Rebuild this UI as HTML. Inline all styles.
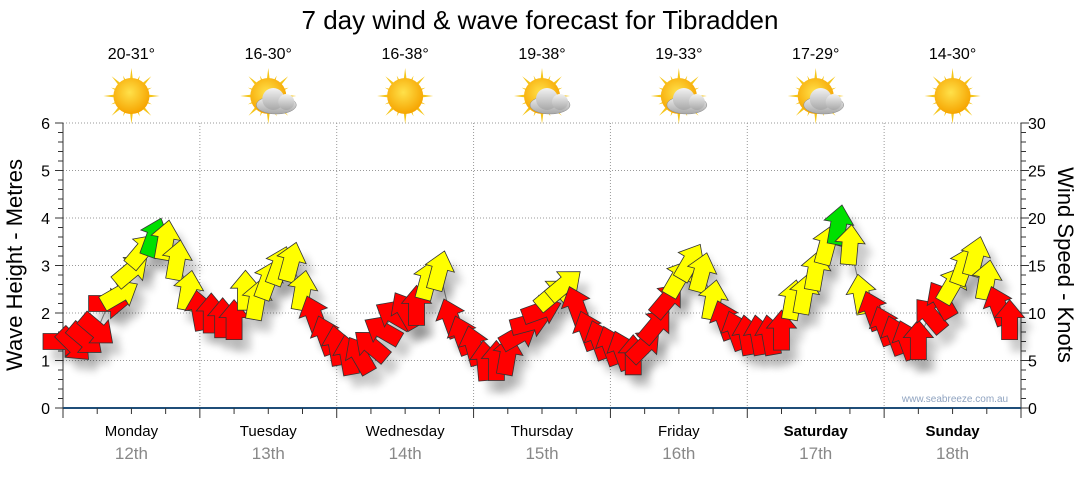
<!DOCTYPE html>
<html><head><meta charset="utf-8"><style>
body{margin:0;background:#fff;font-family:"Liberation Sans",sans-serif}
svg text{font-family:"Liberation Sans",sans-serif}
</style></head><body>
<svg id="c" width="1080" height="475" xmlns="http://www.w3.org/2000/svg">
<defs>
<radialGradient id="sunG" cx="45%" cy="40%" r="60%"><stop offset="0" stop-color="#ffe14a"/><stop offset="1" stop-color="#f6a400"/></radialGradient>
<linearGradient id="cloudG" x1="0" y1="0" x2="0" y2="1"><stop offset="0" stop-color="#f2f2f2"/><stop offset="1" stop-color="#a8a8a8"/></linearGradient>
<filter id="sh" x="-50%" y="-50%" width="200%" height="200%"><feGaussianBlur stdDeviation="4"/></filter>
</defs>
<text x="540" y="29" text-anchor="middle" font-size="26" fill="#000">7 day wind &amp; wave forecast for Tibradden</text>
<g id="grid"></g><g id="axes"></g><g id="marks"></g><g id="wx"></g>
<text x="955" y="402" text-anchor="middle" font-size="10" fill="#8fa3c0">www.seabreeze.com.au</text>
<text transform="translate(22,265) rotate(-90)" text-anchor="middle" font-size="22">Wave Height - Metres</text>
<text transform="translate(1058,265) rotate(90)" text-anchor="middle" font-size="22">Wind Speed - Knots</text>
</svg>
<script>
const days=["Monday","Tuesday","Wednesday","Thursday","Friday","Saturday","Sunday"];
const dates=["12th","13th","14th","15th","16th","17th","18th"];
const temps=["20-31°","16-30°","16-38°","19-38°","19-33°","17-29°","14-30°"];
const cloudy=[0,1,0,1,1,1,0];
const waveTicks=[0,1,2,3,4,5,6];
const windTicks=[0,5,10,15,20,25,30];
const windSpeed=[7,6.6,7.2,8.2,11,12,14.5,16.6,18,17.7,15.6,12.4,
10.3,10,9.5,9.3,12.4,11.4,13.5,15,15.4,12.4,9.8,7.7,
6.6,5.6,5.6,6.6,8.2,9.8,10.3,10.8,13.5,14.5,9.5,7.7,
6.6,5,5,5.6,7.7,9,10.3,12,13,10.8,8.2,7.2,
6.6,6.1,5.6,6.6,8.7,11.4,13.7,15.4,14.3,11.4,9.3,8.2,
7.7,7.7,7.7,8.2,11.4,12,14.5,17.2,19.3,17.2,12,10.3,
8.7,7.7,7.2,7.2,9.8,11.4,13,15,16,13.5,10.8,9.3];
const windDir=[0,45,40,40,0,-30,-40,-50,-70,-80,-80,-80,
-100,-90,-90,-90,-90,-80,-70,-70,-75,-80,-110,-110,
-100,-100,-120,-140,-150,-150,-120,-90,-75,-75,-110,-110,
-105,-95,-90,-80,-30,-15,-20,-40,-40,-110,-110,-110,
-110,-110,-90,-45,-50,-50,-60,-60,-75,-80,-110,-110,
-100,-100,-100,-90,-80,-80,-80,-75,-80,-85,-100,-110,
-110,-110,-110,-90,-130,-120,-60,-70,-75,-80,-110,-90];
const windCat=["r","r","r","r","r","y","y","y","g","y","y","y",
"r","r","r","r","y","y","y","y","y","y","r","r",
"r","r","r","r","r","r","r","r","y","y","r","r",
"r","r","r","r","r","r","r","y","y","r","r","r",
"r","r","r","r","r","r","y","y","y","y","r","r",
"r","r","r","r","y","y","y","y","g","y","y","r",
"r","r","r","r","r","r","y","y","y","y","r","r"];
const NS="http://www.w3.org/2000/svg";
const L=63,R=1021,T=123,B=408;
const xDay=d=>L+d*(R-L)/7;
const xIdx=i=>L+i*(R-L)/84;
const yWave=m=>B-m*(B-T)/6;
const yWind=k=>B-k*(B-T)/30;
function mk(tag,attrs,parent){const e=document.createElementNS(NS,tag);for(const k in attrs)e.setAttribute(k,attrs[k]);parent.appendChild(e);return e;}
const grid=document.getElementById('grid'),axes=document.getElementById('axes'),marks=document.getElementById('marks'),wx=document.getElementById('wx');
waveTicks.forEach(m=>{
 if(m>0){const g=mk('line',{x1:L,x2:R,y1:yWave(m),y2:yWave(m),stroke:'#999','stroke-dasharray':'1,2'},grid);
 
 }
 const t=mk('text',{x:50,y:yWave(m)+6,'text-anchor':'end','font-size':16},axes);t.textContent=m;
 
 
});
windTicks.forEach(k=>{const t=mk('text',{x:1028,y:yWind(k)+6,'font-size':16},axes);t.textContent=k;
 
 });
for(let j=0;j<=30;j++){const y=B-j*(B-T)/30;const w=(j%5==0)?8:5;
 mk('line',{x1:L-w,x2:L,y1:y,y2:y,stroke:'#333'},axes);mk('line',{x1:R,x2:R+w,y1:y,y2:y,stroke:'#333'},axes);}
mk('line',{x1:L,x2:L,y1:T,y2:B,stroke:'#333'},axes);mk('line',{x1:R,x2:R,y1:T,y2:B,stroke:'#333'},axes);
for(let d=1;d<7;d++){const g=mk('line',{x1:xDay(d),x2:xDay(d),y1:T,y2:B,stroke:'#999','stroke-dasharray':'1,2'},grid);
 
 }
mk('line',{x1:L,x2:R,y1:B,y2:B,stroke:'#1f4e79','stroke-width':2},axes);
for(let i=0;i<=28;i++){const x=L+i*(R-L)/28;mk('line',{x1:x,x2:x,y1:B,y2:B+(i%4==0?10:6),stroke:'#333'},axes);}
days.forEach((d,i)=>{const cx=(xDay(i)+xDay(i+1))/2;
 const a=mk('text',{x:cx,y:436,'text-anchor':'middle','font-size':15,'font-weight':i>=5?'bold':'normal'},axes);a.textContent=d;
 
 
 const b=mk('text',{x:cx,y:459,'text-anchor':'middle','font-size':17,fill:'#888'},axes);b.textContent=dates[i];
 
 
 const t=mk('text',{x:cx,y:59,'text-anchor':'middle','font-size':16},wx);t.textContent=temps[i];
 
 
 const g=mk('g',{transform:`translate(${cx},96)`},wx);
 
 
 for(let r=0;r<16;r++){const ang=r*22.5,len=r%2?22:28;mk('polygon',{points:`-3.5,0 3.5,0 0,-${len}`,fill:'#f5c518',transform:`rotate(${ang})`},g);}
 mk('circle',{r:18,fill:'url(#sunG)'},g);
 if(cloudy[i]){const c=mk('g',{transform:'translate(8,5)'},g);
  mk('ellipse',{cx:0,cy:4,rx:20,ry:9,fill:'url(#cloudG)',stroke:'#888','stroke-width':0.5},c);
  mk('circle',{cx:-3,cy:-2,r:11,fill:'url(#cloudG)'},c);mk('circle',{cx:10,cy:1,r:8,fill:'url(#cloudG)'},c);}
});
let pts=windSpeed.map((k,i)=>xIdx(i)+','+yWind(k)).join(' ');
mk('polyline',{points:pts,fill:'none',stroke:'#888','stroke-width':1},marks);
const col={r:'#ff0000',y:'#ffff00',g:'#00e000'};
const shape="-20,-8 2,-8 2,-15 20,0 2,15 2,8 -20,8";
windSpeed.forEach((k,i)=>{const x=xIdx(i),y=yWind(k);
 mk('polygon',{points:shape,fill:'#000',opacity:0.2,filter:'url(#sh)',transform:`translate(${x+9},${y+12}) rotate(${windDir[i]})`},marks);});
windSpeed.forEach((k,i)=>{const x=xIdx(i),y=yWind(k);
 const p=mk('polygon',{points:shape,fill:col[windCat[i]],stroke:'#333','stroke-width':0.8,transform:`translate(${x},${y}) rotate(${windDir[i]})`},marks);
 
 });
</script>
</body></html>
